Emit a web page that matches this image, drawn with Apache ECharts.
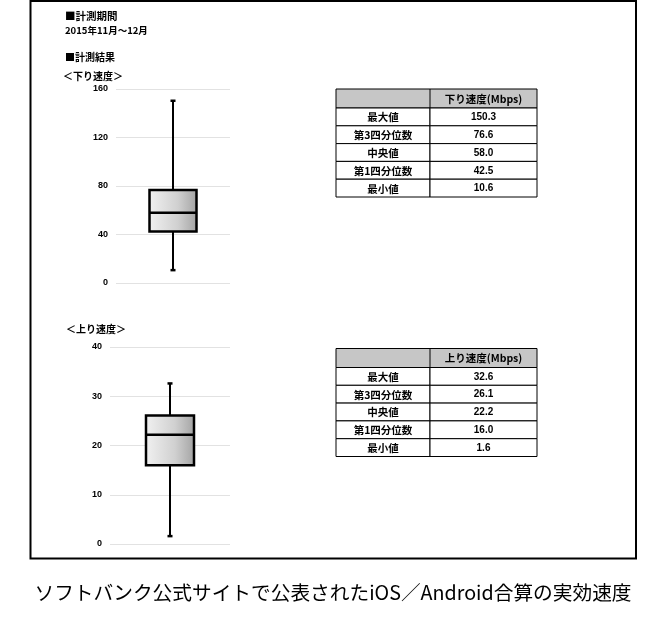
<!DOCTYPE html>
<html>
<head>
<meta charset="utf-8">
<script src="https://cdn.jsdelivr.net/npm/echarts@6/dist/echarts.min.js"></script>
<style>
html,body{margin:0;padding:0;background:#fff;}
#main{width:668px;height:620px;}
</style>
</head>
<body>
<div id="main"></div>
<script>
// ---- data ----
const statLabels = ['最大値', '第3四分位数', '中央値', '第1四分位数', '最小値'];
// [min, Q1, median, Q3, max]
const downStats = [10.6, 42.5, 58.0, 76.6, 150.3];
const upStats = [1.6, 16.0, 22.2, 26.1, 32.6];
const downHeader = '下り速度(Mbps)';
const upHeader = '上り速度(Mbps)';
const downTitle = '＜下り速度＞';
const upTitle = '＜上り速度＞';
const periodLines = ['■計測期間', '2015年11月～12月', '■計測結果'];
const caption = 'ソフトバンク公式サイトで公表されたiOS／Android合算の実効速度';
const downAxis = { min: 0, max: 160, interval: 40 };
const upAxis = { min: 0, max: 40, interval: 10 };

const JP = '"Noto Sans CJK JP", sans-serif';
const NUM = '"Liberation Sans", Arial, sans-serif';

const chart = echarts.init(document.getElementById('main'), null, { renderer: 'canvas' });

function renderBox(halfW) {
  return function (params, api) {
    const x = api.value(0);
    const cx = api.coord([x, 0])[0];
    const yMin = api.coord([x, api.value(1)])[1];
    const yQ1 = api.coord([x, api.value(2)])[1];
    const yMed = api.coord([x, api.value(3)])[1];
    const yQ3 = api.coord([x, api.value(4)])[1];
    const yMax = api.coord([x, api.value(5)])[1];
    const lineStyle = { stroke: '#000', lineWidth: 2 };
    const capW = 2.5;
    return {
      type: 'group',
      children: [
        { type: 'line', shape: { x1: cx, y1: yMax, x2: cx, y2: yQ3 }, style: lineStyle },
        { type: 'line', shape: { x1: cx, y1: yQ1, x2: cx, y2: yMin }, style: lineStyle },
        { type: 'line', shape: { x1: cx - capW, y1: yMax, x2: cx + capW, y2: yMax }, style: { stroke: '#000', lineWidth: 2.5 } },
        { type: 'line', shape: { x1: cx - capW, y1: yMin, x2: cx + capW, y2: yMin }, style: { stroke: '#000', lineWidth: 2.5 } },
        {
          type: 'rect',
          shape: { x: cx - halfW, y: yQ3, width: halfW * 2, height: yQ1 - yQ3 },
          style: {
            fill: new echarts.graphic.LinearGradient(0, 0, 1, 0, [
              { offset: 0, color: '#f2f2f2' },
              { offset: 0.6, color: '#d0d0d0' },
              { offset: 1, color: '#a2a2a2' }
            ]),
            stroke: '#000',
            lineWidth: 2.5
          }
        },
        { type: 'line', shape: { x1: cx - halfW, y1: yMed, x2: cx + halfW, y2: yMed }, style: { stroke: '#000', lineWidth: 2.5 } }
      ]
    };
  };
}

function yAxisOpt(idx, ax) {
  return {
    gridIndex: idx,
    type: 'value',
    min: ax.min, max: ax.max, interval: ax.interval,
    axisLine: { show: false },
    axisTick: { show: false },
    splitLine: { lineStyle: { color: '#e2e2e2', width: 1 } },
    axisLabel: { color: '#000', fontWeight: 'bold', fontSize: 9, fontFamily: NUM, margin: 8 }
  };
}

function xAxisOpt(idx) {
  return {
    gridIndex: idx, type: 'value', min: 0, max: 2,
    show: false
  };
}

// table builder (graphic elements)
function buildTable(left, top, header, stats) {
  const colW = [94, 107];
  const headH = 19, rowH = 17.8;
  const els = [];
  const total = colW[0] + colW[1];
  els.push({ type: 'rect', shape: { x: left, y: top, width: total, height: headH }, style: { fill: '#c6c6c6', stroke: '#000', lineWidth: 1 } });
  const values = [stats[4], stats[3], stats[2], stats[1], stats[0]];
  for (let i = 0; i < statLabels.length; i++) {
    const y = top + headH + i * rowH;
    els.push({ type: 'rect', shape: { x: left, y: y, width: colW[0], height: rowH }, style: { fill: '#fff', stroke: '#000', lineWidth: 1 } });
    els.push({ type: 'rect', shape: { x: left + colW[0], y: y, width: colW[1], height: rowH }, style: { fill: '#fff', stroke: '#000', lineWidth: 1 } });
    els.push({ type: 'text', style: { text: statLabels[i], x: left + colW[0] / 2, y: y + rowH / 2 + 0.5, textAlign: 'center', textVerticalAlign: 'middle', font: 'bold 10.5px ' + JP, fill: '#000' } });
    els.push({ type: 'text', style: { text: values[i].toFixed(1), x: left + colW[0] + colW[1] / 2, y: y + rowH / 2 + 0.5, textAlign: 'center', textVerticalAlign: 'middle', font: 'bold 10px ' + NUM, fill: '#000' } });
  }
  els.push({ type: 'line', shape: { x1: left + colW[0], y1: top, x2: left + colW[0], y2: top + headH }, style: { stroke: '#000', lineWidth: 1 } });
  els.push({ type: 'text', style: { text: header, x: left + colW[0] + colW[1] / 2, y: top + headH / 2 + 0.5, textAlign: 'center', textVerticalAlign: 'middle', font: 'bold 10.5px ' + JP, fill: '#000' } });
  return els;
}

const graphics = [
  { type: 'rect', z: -10, shape: { x: 30.5, y: 1, width: 605.5, height: 557.5 }, style: { fill: '#fff', stroke: '#000', lineWidth: 2 } },
  { type: 'text', style: { text: periodLines[0], x: 65, y: 16, textVerticalAlign: 'middle', font: 'bold 10.5px ' + JP, fill: '#000' } },
  { type: 'text', style: { text: periodLines[1], x: 65, y: 30, textVerticalAlign: 'middle', font: 'bold 9.5px ' + JP, fill: '#000' } },
  { type: 'text', style: { text: periodLines[2], x: 65, y: 57, textVerticalAlign: 'middle', font: 'bold 10px ' + JP, fill: '#000' } },
  { type: 'text', style: { text: downTitle, x: 63, y: 76, textVerticalAlign: 'middle', font: 'bold 10px ' + JP, fill: '#000' } },
  { type: 'text', style: { text: upTitle, x: 66, y: 329, textVerticalAlign: 'middle', font: 'bold 10px ' + JP, fill: '#000' } },
  { type: 'text', style: { text: caption, x: 333, y: 593, textAlign: 'center', textVerticalAlign: 'middle', font: '19.7px ' + JP, fill: '#000' } }
].concat(buildTable(336, 89, downHeader, downStats)).concat(buildTable(336, 348.5, upHeader, upStats));

const option = {
  animation: false,
  backgroundColor: '#fff',
  grid: [
    { left: 116, top: 89, width: 114, height: 194 },
    { left: 110, top: 347, width: 120, height: 197 }
  ],
  xAxis: [xAxisOpt(0), xAxisOpt(1)],
  yAxis: [yAxisOpt(0, downAxis), yAxisOpt(1, upAxis)],
  series: [
    {
      type: 'custom', xAxisIndex: 0, yAxisIndex: 0,
      renderItem: renderBox(23.5),
      encode: { x: 0, y: [1, 2, 3, 4, 5] },
      data: [[1].concat(downStats)],
      z: 5
    },
    {
      type: 'custom', xAxisIndex: 1, yAxisIndex: 1,
      renderItem: renderBox(24),
      encode: { x: 0, y: [1, 2, 3, 4, 5] },
      data: [[1].concat(upStats)],
      z: 5
    }
  ],
  graphic: graphics
};
chart.setOption(option);
</script>
</body>
</html>
